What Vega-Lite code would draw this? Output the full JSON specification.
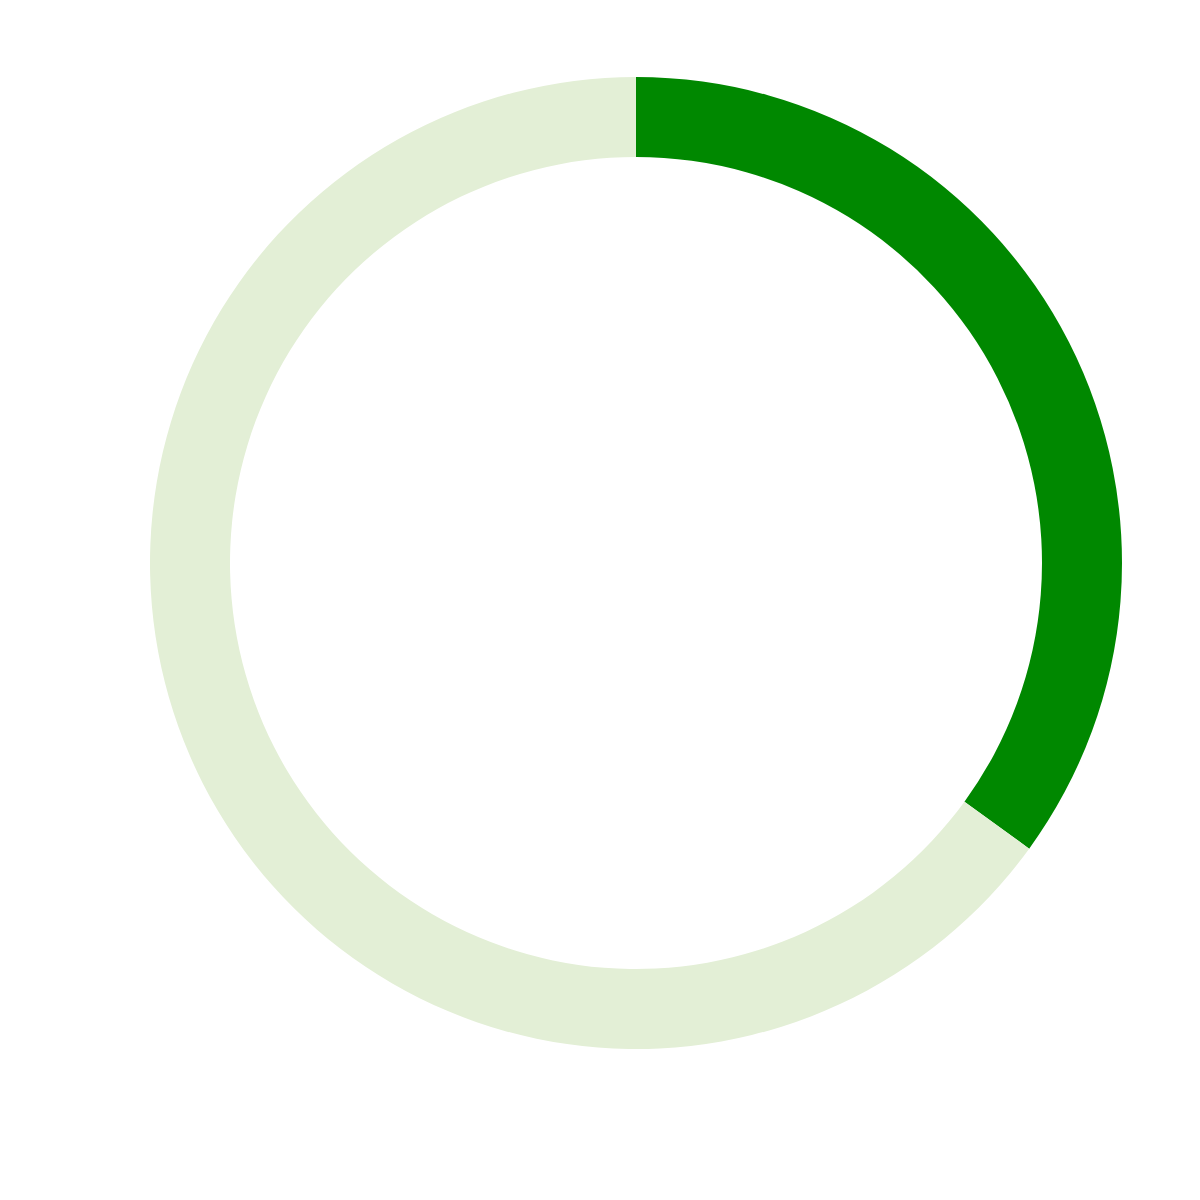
{
  "$schema": "https://vega.github.io/schema/vega-lite/v6.json",
  "width": 1272,
  "height": 1126,
  "padding": 0,
  "config": {"view": {"stroke": "transparent"}},
  "data": {
    "values": [
      {"category": "done", "value": 35, "order": 1},
      {"category": "remaining", "value": 65, "order": 2}
    ]
  },
  "mark": {"type": "arc", "outerRadius": 486, "innerRadius": 406},
  "encoding": {
    "theta": {"field": "value", "type": "quantitative", "stack": true},
    "order": {"field": "order", "type": "quantitative"},
    "color": {
      "field": "category",
      "type": "nominal",
      "scale": {"domain": ["done", "remaining"], "range": ["#008800", "#e3efd6"]},
      "legend": null
    }
  }
}
